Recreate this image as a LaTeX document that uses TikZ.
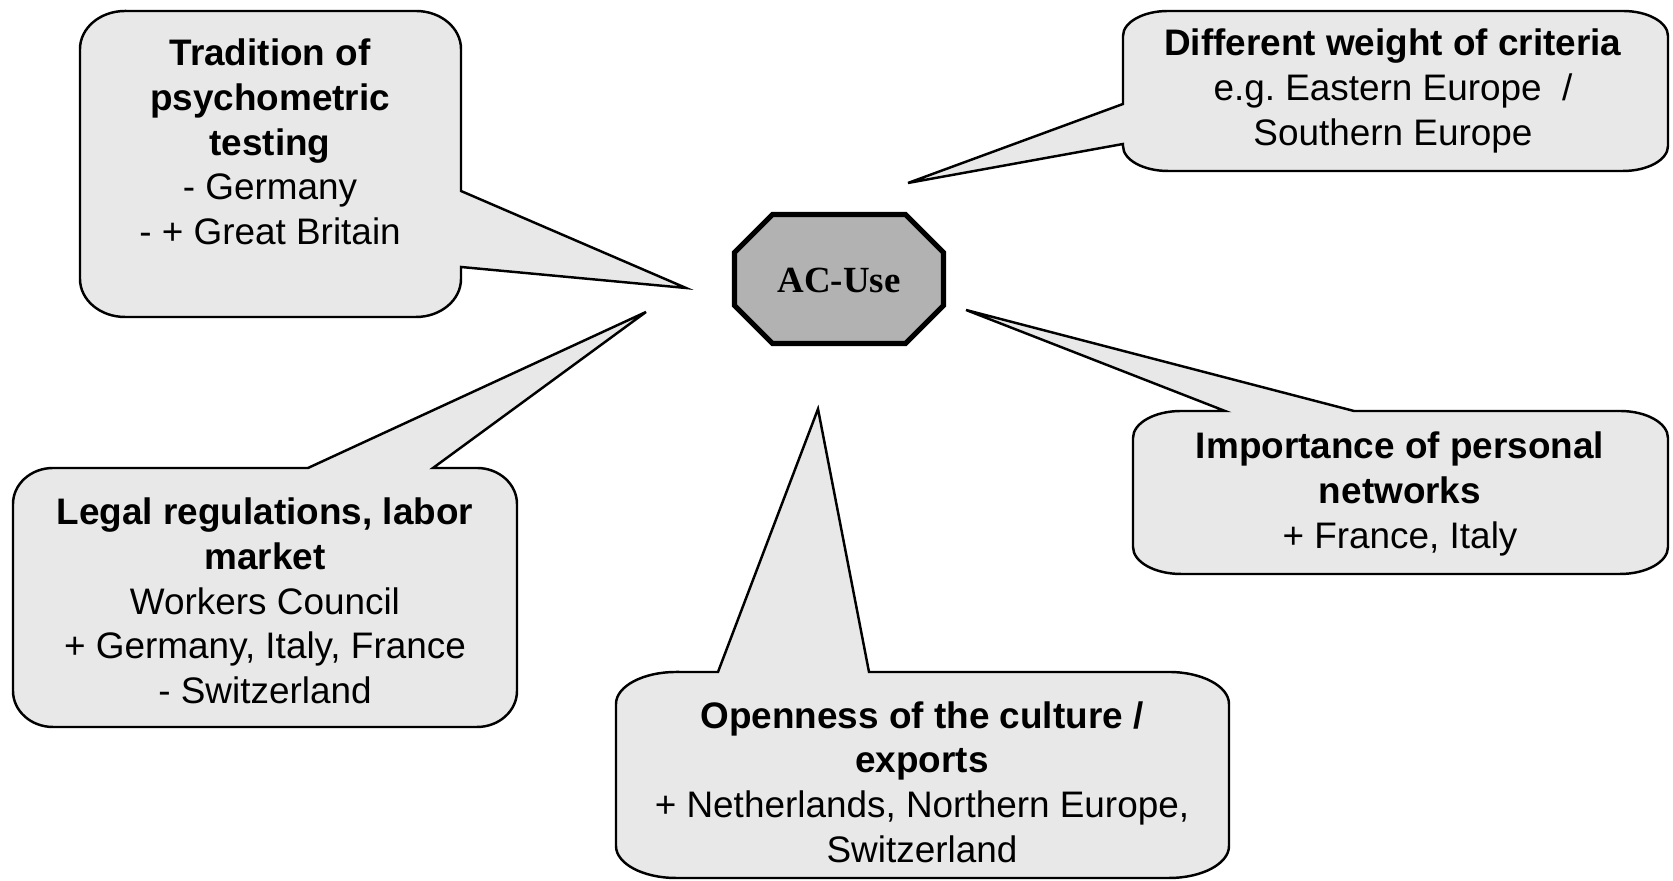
\documentclass[tikz,border=0pt]{standalone}
\usepackage{fontspec}
\setmainfont{Liberation Sans}
\newfontfamily\acfont{Liberation Serif}
\usepackage{tikz}
\definecolor{bubblegray}{gray}{0.91}
\definecolor{acgray}{gray}{0.70}
\newcommand{\bsz}{\fontsize{10.5}{12.7}\selectfont\frenchspacing}

\begin{document}
\begin{tikzpicture}[
    bubble/.style={draw=black,fill=bubblegray,line width=0.7pt,line join=miter},
    bubbletext/.style={align=center,inner sep=0pt,font=\bsz},
    octa/.style={draw=black,fill=acgray,line width=1.5pt,line join=miter},
    actext/.style={inner sep=0pt,font=\acfont\bfseries\bsz}]
     \useasboundingbox (0,0) rectangle (16.73,8.81);
     % tips of the callouts, all round the centre
     \coordinate (tipTrad)   at (6.86,5.93);
     \coordinate (tipWeight) at (9.08,6.98);
     \coordinate (tipNetw)   at (9.66,5.71);
     \coordinate (tipLegal)  at (6.46,5.69);
     \coordinate (tipOpen)   at (8.18,4.72);
     % callouts
     \draw[bubble,x radius=.45,y radius=.38] (1.25,8.70) -- (4.16,8.70) arc[start angle=90,end angle=0]
       -- (4.61,6.90) -- (tipTrad) -- (4.61,6.14) -- (4.61,6.02) arc[start angle=0,end angle=-90]
       -- (1.25,5.64) arc[start angle=270,end angle=180] -- (.80,8.32) arc[start angle=180,end angle=90] -- cycle;
     \draw[bubble,x radius=.45,y radius=.25] (11.68,8.70) -- (16.23,8.70) arc[start angle=90,end angle=0]
       -- (16.68,7.35) arc[start angle=0,end angle=-90] -- (11.68,7.10) arc[start angle=270,end angle=180]
       -- (11.23,7.37) -- (tipWeight) -- (11.23,7.77) -- (11.23,8.45) arc[start angle=180,end angle=90] -- cycle;
     \draw[bubble,x radius=.48,y radius=.27] (11.81,4.70) -- (12.25,4.70) -- (tipNetw) -- (13.54,4.70)
       -- (16.20,4.70) arc[start angle=90,end angle=0] -- (16.68,3.34) arc[start angle=0,end angle=-90]
       -- (11.81,3.07) arc[start angle=270,end angle=180] -- (11.33,4.43) arc[start angle=180,end angle=90] -- cycle;
     \draw[bubble,x radius=.40,y radius=.36] (.53,4.13) -- (3.08,4.13) -- (tipLegal) -- (4.33,4.13)
       -- (4.77,4.13) arc[start angle=90,end angle=0] -- (5.17,1.90) arc[start angle=0,end angle=-90]
       -- (.53,1.54) arc[start angle=270,end angle=180] -- (.13,3.77) arc[start angle=180,end angle=90] -- cycle;
     \draw[bubble,x radius=.60,y radius=.32] (6.76,2.09) -- (7.18,2.09) -- (tipOpen) -- (8.69,2.09)
       -- (11.69,2.09) arc[start angle=90,end angle=0] -- (12.29,0.35) arc[start angle=0,end angle=-90]
       -- (6.76,0.03) arc[start angle=270,end angle=180] -- (6.16,1.77) arc[start angle=180,end angle=90] -- cycle;
     % centre
     \draw[octa,shift={(8.39,6.02)}] (-0.665,0.645) -- (0.665,0.645) -- (1.045,0.265) -- (1.045,-0.265)
       -- (0.665,-0.645) -- (-0.665,-0.645) -- (-1.045,-0.265) -- (-1.045,0.265) -- cycle;
     \node[actext] (ac) at (8.39,6.01) {AC-Use};
     % texts
     \node[bubbletext] (trad) at (2.70,7.39)
       {\textbf{Tradition of}\\\textbf{psychometric}\\\textbf{testing}\\- Germany\\- + Great Britain};
     \node[bubbletext] (weight) at (13.93,7.90)
       {\textbf{Different weight of criteria}\\e.g.\ Eastern Europe~ /\\Southern Europe};
     \node[bubbletext] (netw) at (14.00,3.87)
       {\textbf{Importance of personal}\\\textbf{networks}\\+ France, Italy};
     \node[bubbletext] (legal) at (2.65,2.80)
       {\textbf{Legal regulations, labor}\\\textbf{market}\\Workers Council\\+ Germany, Italy, France\\- Switzerland};
     \node[bubbletext] (open) at (9.22,0.99)
       {\textbf{Openness of the culture /}\\\textbf{exports}\\+ Netherlands, Northern Europe,\\Switzerland};
\end{tikzpicture}
\end{document}
